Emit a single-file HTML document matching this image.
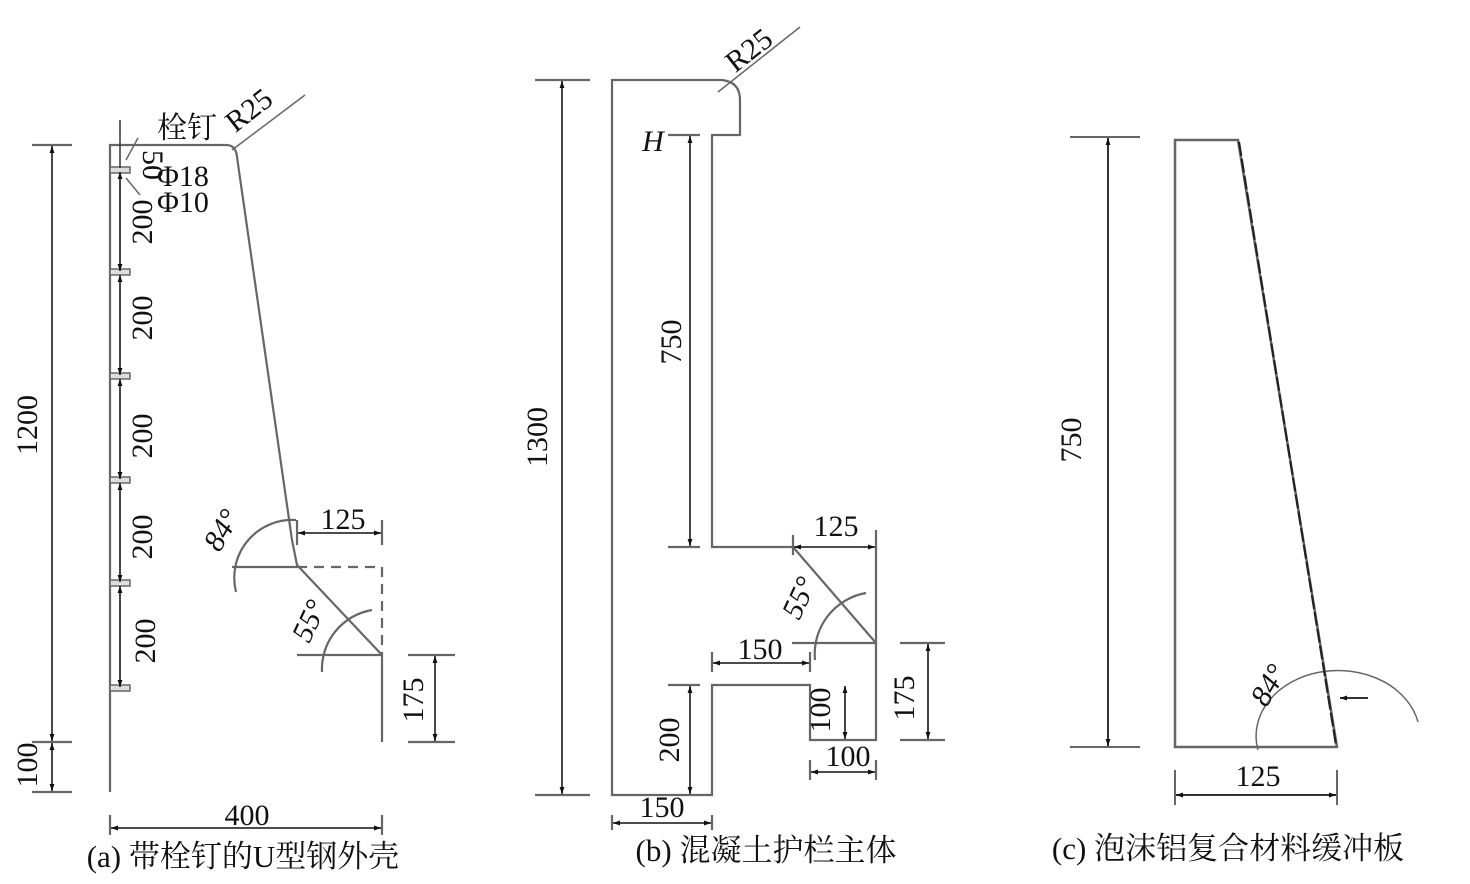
<!DOCTYPE html>
<html><head><meta charset="utf-8"><style>
html,body{margin:0;padding:0;background:#fff;width:1470px;height:884px;overflow:hidden}
svg{display:block}
text{font-family:"Liberation Serif","Noto Serif CJK SC","Noto Sans CJK SC",serif;fill:#111}
</style></head><body>
<svg width="1470" height="884" viewBox="0 0 1470 884" xmlns="http://www.w3.org/2000/svg">
<defs>
<marker id="a" viewBox="0 0 10 10" refX="10" refY="5" markerWidth="10" markerHeight="7" orient="auto-start-reverse" markerUnits="userSpaceOnUse"><path d="M0,1.5 L10,5 L0,8.5z" fill="#111"/></marker>
</defs>
<g stroke="#666" stroke-width="2.2" fill="none">
<path d="M110,792 V145 H226 Q236,145 237,157 L292,540 L297,565 L382,655 V742"/>
<path d="M297,567 H382 V655" stroke-dasharray="10,7"/>
<path d="M232,567 H297 M297,655 H382"/>
<path d="M32,145 H72 M32,742 H72 M32,792 H72 M408,655 H455 M408,742 H455 M382,520 V545 M297,520 V545"/>
<path d="M110,815 V835 M382,815 V835"/>
<path d="M236,592 A58,58 0 0 1 296,520"/>
<path d="M322,672 A60,60 0 0 1 372,610"/>
<path d="M232,150 L305,95" stroke-width="1.5"/>
<path d="M126,160 L138,138 M126,178 L140,195" stroke-width="1.5"/>
</g>
<g stroke="#666" stroke-width="1.5" fill="#ddd">
<rect x="110" y="167" width="20" height="6"/><rect x="110" y="269" width="20" height="6"/><rect x="110" y="373" width="20" height="6"/><rect x="110" y="477" width="20" height="6"/><rect x="110" y="580" width="20" height="6"/><rect x="110" y="685" width="20" height="6"/>
</g>
<g stroke="#333" stroke-width="1.8" fill="none" marker-start="url(#a)" marker-end="url(#a)">
<line x1="52" y1="146" x2="52" y2="741"/>
<line x1="52" y1="743" x2="52" y2="791"/>
<line x1="111" y1="828" x2="381" y2="828"/>
<line x1="298" y1="533" x2="381" y2="533"/>
<line x1="435" y1="656" x2="435" y2="741"/>
<line x1="120" y1="172" x2="120" y2="271"/>
<line x1="120" y1="275" x2="120" y2="375"/>
<line x1="120" y1="379" x2="120" y2="479"/>
<line x1="120" y1="483" x2="120" y2="582"/>
<line x1="120" y1="586" x2="120" y2="687"/>
</g>
<line x1="120" y1="120" x2="120" y2="168" stroke="#333" stroke-width="1.5"/>
<g font-size="30">
<text x="30" y="425" transform="rotate(-90 30 425)" text-anchor="middle" dominant-baseline="middle">1200</text>
<text x="30" y="765" transform="rotate(-90 30 765)" text-anchor="middle" dominant-baseline="middle">100</text>
<text x="150" y="165" transform="rotate(90 150 165)" text-anchor="middle" dominant-baseline="middle">50</text>
<text x="145" y="222" transform="rotate(-90 145 222)" text-anchor="middle" dominant-baseline="middle">200</text>
<text x="145" y="318" transform="rotate(-90 145 318)" text-anchor="middle" dominant-baseline="middle">200</text>
<text x="145" y="436" transform="rotate(-90 145 436)" text-anchor="middle" dominant-baseline="middle">200</text>
<text x="145" y="537" transform="rotate(-90 145 537)" text-anchor="middle" dominant-baseline="middle">200</text>
<text x="148" y="641" transform="rotate(-90 148 641)" text-anchor="middle" dominant-baseline="middle">200</text>
<text x="157" y="138">栓钉</text>
<text x="157" y="186">Φ18</text>
<text x="157" y="212">Φ10</text>
<text x="255" y="118" transform="rotate(-38 255 118)" text-anchor="middle">R25</text>
<text x="343" y="529" text-anchor="middle">125</text>
<text x="230" y="535" transform="rotate(-60 230 535)" text-anchor="middle" font-style="italic">84°</text>
<text x="318" y="625" transform="rotate(-65 318 625)" text-anchor="middle" font-style="italic">55°</text>
<text x="416" y="700" transform="rotate(-90 416 700)" text-anchor="middle" dominant-baseline="middle">175</text>
<text x="247" y="825" text-anchor="middle">400</text>
<text x="243" y="867" text-anchor="middle" font-size="31">(a) 带栓钉的U型钢外壳</text>
</g>

<g stroke="#666" stroke-width="2.2" fill="none">
<path d="M612,795 V80 H722 Q740,82 740,100 V135 H712 V547 H793 L876,643 V740 H810 V685 H712 V795 Z"/>
<path d="M876,530 V643 M792,643 H876 M793,535 V555"/>
<path d="M535,80 H590 M535,795 H590 M668,135 H700 M668,547 H700 M668,685 H700 M900,643 H945 M900,740 H945"/>
<path d="M612,815 V830 M712,815 V830 M810,760 V780 M876,760 V780 M712,652 V672 M810,652 V672"/>
<path d="M815,660 A62,62 0 0 1 866,593"/>
<path d="M718,92 L800,27" stroke-width="1.5"/>
</g>
<g stroke="#333" stroke-width="1.8" fill="none" marker-start="url(#a)" marker-end="url(#a)">
<line x1="562" y1="81" x2="562" y2="794"/>
<line x1="690" y1="136" x2="690" y2="546"/>
<line x1="690" y1="686" x2="690" y2="794"/>
<line x1="794" y1="547" x2="875" y2="547"/>
<line x1="713" y1="663" x2="809" y2="663"/>
<line x1="845" y1="686" x2="845" y2="739"/>
<line x1="811" y1="772" x2="875" y2="772"/>
<line x1="928" y1="644" x2="928" y2="739"/>
<line x1="613" y1="823" x2="711" y2="823"/>
</g>
<g font-size="30">
<text x="540" y="437" transform="rotate(-90 540 437)" text-anchor="middle" dominant-baseline="middle">1300</text>
<text x="653" y="151" text-anchor="middle" font-style="italic">H</text>
<text x="674" y="342" transform="rotate(-90 674 342)" text-anchor="middle" dominant-baseline="middle">750</text>
<text x="755" y="58" transform="rotate(-38 755 58)" text-anchor="middle">R25</text>
<text x="836" y="536" text-anchor="middle">125</text>
<text x="808" y="602" transform="rotate(-65 808 602)" text-anchor="middle" font-style="italic">55°</text>
<text x="760" y="659" text-anchor="middle">150</text>
<text x="672" y="740" transform="rotate(-90 672 740)" text-anchor="middle" dominant-baseline="middle">200</text>
<text x="823" y="710" transform="rotate(-90 823 710)" text-anchor="middle" dominant-baseline="middle">100</text>
<text x="848" y="766" text-anchor="middle">100</text>
<text x="907" y="698" transform="rotate(-90 907 698)" text-anchor="middle" dominant-baseline="middle">175</text>
<text x="662" y="817" text-anchor="middle">150</text>
<text x="766" y="861" text-anchor="middle" font-size="31">(b) 混凝土护栏主体</text>
</g>

<g stroke="#666" stroke-width="2.5" fill="none">
<path d="M1175,747 V140 H1238 L1337,747 Z"/>
<path d="M1070,137 H1140 M1070,747 H1140 M1175,770 V805 M1337,770 V805" stroke-width="2"/>
<path d="M1258,750 A75,60 0 0 1 1418,722" stroke-width="1.5"/>
</g>
<line x1="1239" y1="142" x2="1336" y2="745" stroke="#222" stroke-width="2.2" stroke-dasharray="14,3"/>
<g stroke="#333" stroke-width="2" fill="none" marker-start="url(#a)" marker-end="url(#a)">
<line x1="1108" y1="138" x2="1108" y2="746"/>
<line x1="1176" y1="795" x2="1336" y2="795"/>
</g>
<line x1="1368" y1="698" x2="1340" y2="698" stroke="#333" stroke-width="2" marker-end="url(#a)"/>
<g font-size="30">
<text x="1074" y="440" transform="rotate(-90 1074 440)" text-anchor="middle" dominant-baseline="middle">750</text>
<text x="1277" y="690" transform="rotate(-60 1277 690)" text-anchor="middle" font-style="italic">84°</text>
<text x="1258" y="786" text-anchor="middle">125</text>
<text x="1228" y="859" text-anchor="middle" font-size="31">(c) 泡沫铝复合材料缓冲板</text>
</g>
</svg>
</body></html>
